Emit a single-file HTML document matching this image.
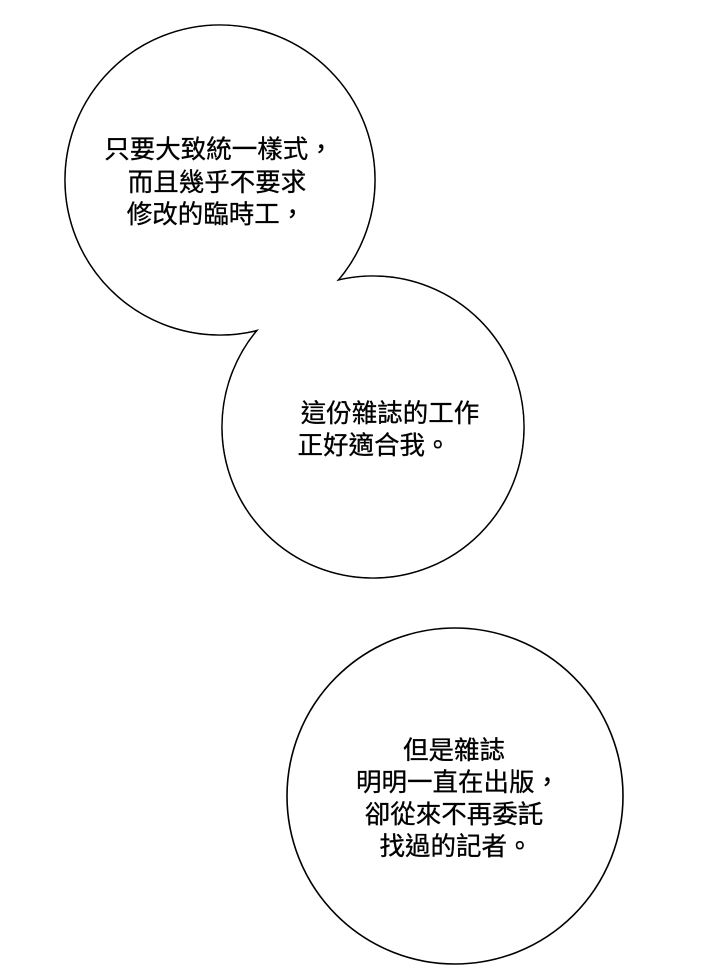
<!DOCTYPE html>
<html><head><meta charset="utf-8"><style>
html,body{margin:0;padding:0;background:#fff;}
svg{display:block;}
text{font-family:"Liberation Sans","Noto Sans CJK TC",sans-serif;font-size:25.5px;fill:#000;text-anchor:middle;stroke:#000;stroke-width:0.3;}
</style></head><body>
<svg width="720" height="969" viewBox="0 0 720 969" xmlns="http://www.w3.org/2000/svg">
<rect width="720" height="969" fill="#fff"/>
<circle cx="220" cy="180" r="155" fill="#fff" stroke="#000" stroke-width="1.6"/>
<circle cx="373" cy="427" r="151" fill="#fff" stroke="#000" stroke-width="1.6"/>
<circle cx="220" cy="180" r="154.2" fill="#fff"/>
<circle cx="373" cy="427" r="150.2" fill="#fff"/>
<circle cx="455" cy="796" r="168" fill="#fff" stroke="#000" stroke-width="1.6"/>
<text x="219" y="158">只要大致統一樣式，</text>
<text x="217" y="191">而且幾乎不要求</text>
<text x="216" y="223">修改的臨時工，</text>
<text x="390" y="422">這份雜誌的工作</text>
<text x="374" y="454">正好適合我。</text>
<text x="454" y="759">但是雜誌</text>
<text x="458" y="791">明明一直在出版，</text>
<text x="454" y="823">卻從來不再委託</text>
<text x="456" y="855">找過的記者。</text>
</svg>
</body></html>
